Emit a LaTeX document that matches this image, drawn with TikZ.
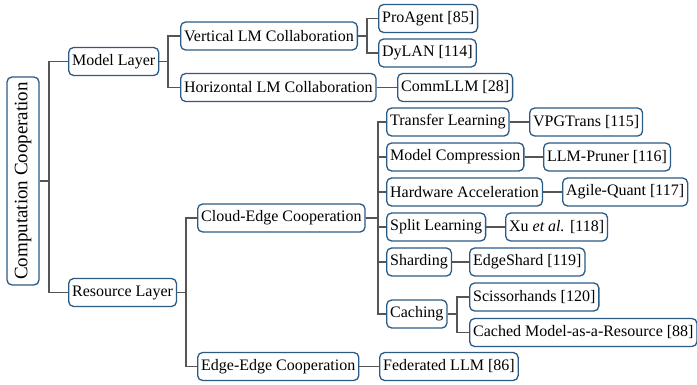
\documentclass[tikz,border=0pt]{standalone}
\usepackage{fontspec}
\setmainfont{Liberation Serif}
\newfontfamily\treefont{Liberation Serif}
\definecolor{boxblue}{HTML}{2B5A85}
\definecolor{linkgray}{HTML}{555555}
\tikzset{
  box/.style={draw=boxblue, rounded corners=5pt, line width=1.3pt, fill=white,
    minimum height=28pt, inner xsep=3.5pt, inner ysep=2pt, anchor=west,
    font=\treefont\fontsize{16}{19}\selectfont},
  link/.style={draw=linkgray, line width=1.9pt},
}
\begin{document}
\begin{tikzpicture}[x=1pt, y=-1pt]
    \useasboundingbox (0,0) rectangle (697,385);

    \node[box, anchor=center, rotate=90, minimum width=208pt, minimum height=32pt,
      font=\treefont\fontsize{19}{22}\selectfont] at (23,181) (root) {Computation Cooperation};

    \node[box] at (68,61.5) (model) {Model Layer};
    \node[box] at (68,292.5) (resource) {Resource Layer};

    \node[box] at (180,36) (vertical) {Vertical LM Collaboration};
    \node[box] at (180,87.5) (horizontal) {Horizontal LM Collaboration};
    \node[box] at (378,18.5) (proagent) {ProAgent [85]};
    \node[box] at (378,53) (dylan) {DyLAN [114]};
    \node[box] at (397,87.5) (commllm) {CommLLM [28]};

    \node[box] at (197,218) (cloud) {Cloud-Edge Cooperation};
    \node[box] at (197,366.5) (edgeedge) {Edge-Edge Cooperation};

    \node[box] at (386,122) (transfer) {Transfer Learning};
    \node[box] at (386,157) (compress) {Model Compression};
    \node[box] at (386,192) (hardware) {Hardware Acceleration};
    \node[box] at (386,227) (split) {Split Learning};
    \node[box] at (386,262) (sharding) {Sharding};
    \node[box] at (386,314) (caching) {Caching};

    \node[box] at (529,122) (vpgtrans) {VPGTrans [115]};
    \node[box] at (543,157) (pruner) {LLM-Pruner [116]};
    \node[box] at (562,192) (agile) {Agile-Quant [117]};
    \node[box] at (505,227) (xu) {Xu \textit{et al.} [118]};
    \node[box] at (469,262) (edgeshard) {EdgeShard [119]};
    \node[box] at (469,297) (scissor) {Scissorhands [120]};
    \node[box] at (469,332.5) (cachedmodel) {Cached Model-as-a-Resource [88]};
    \node[box] at (379,366.5) (federated) {Federated LLM [86]};

    % tree links
    \draw[link] (root.south) -- ++(9,0) |- (model.west);
    \draw[link] (root.south) -- ++(9,0) |- (resource.west);
    \draw[link] (model.east) -- ++(9,0) |- (vertical.west);
    \draw[link] (model.east) -- ++(9,0) |- (horizontal.west);
    \draw[link] (vertical.east) -- ++(9,0) |- (proagent.west);
    \draw[link] (vertical.east) -- ++(9,0) |- (dylan.west);
    \draw[link] (horizontal) -- (commllm);
    \draw[link] (resource.east) -- ++(9,0) |- (cloud.west);
    \draw[link] (resource.east) -- ++(9,0) |- (edgeedge.west);
    \foreach \child in {transfer, compress, hardware, split, sharding, caching}
      \draw[link] (cloud.east) -- ++(12,0) |- (\child.west);
    \draw[link] (transfer) -- (vpgtrans);
    \draw[link] (compress) -- (pruner);
    \draw[link] (hardware) -- (agile);
    \draw[link] (split) -- (xu);
    \draw[link] (sharding) -- (edgeshard);
    \draw[link] (caching.east) -- ++(9,0) |- (scissor.west);
    \draw[link] (caching.east) -- ++(9,0) |- (cachedmodel.west);
    \draw[link] (edgeedge) -- (federated);
\end{tikzpicture}
\end{document}
